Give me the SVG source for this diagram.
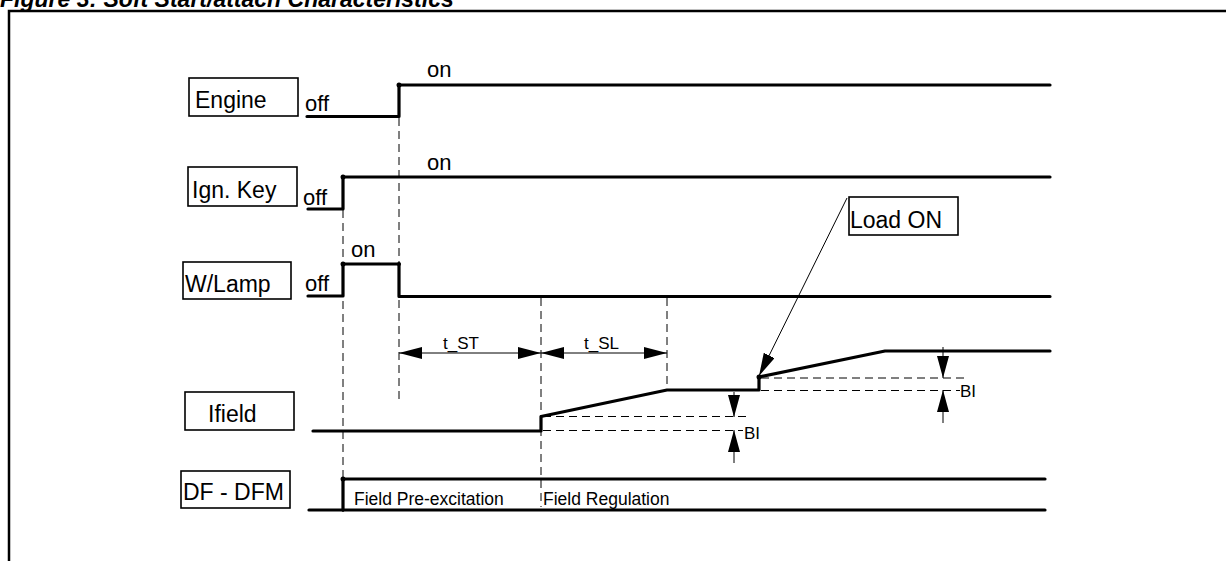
<svg xmlns="http://www.w3.org/2000/svg" width="1226" height="561" viewBox="0 0 1226 561">
<style>
.lbl{font-family:"Liberation Sans",Arial,sans-serif;font-size:23px;fill:#000}
.st{font-family:"Liberation Sans",Arial,sans-serif;font-size:22px;fill:#000}
.sm{font-family:"Liberation Sans",Arial,sans-serif;font-size:17px;fill:#000}
.box{fill:#fff;stroke:#000;stroke-width:1.6}
.sig{fill:none;stroke:#000;stroke-width:3.2;stroke-linejoin:round;stroke-linecap:round}
.dash{fill:none;stroke:#000;stroke-width:1;stroke-dasharray:8,5}
.thin{fill:none;stroke:#000;stroke-width:1}
.dot{fill:#000}
</style>
<defs>
<marker id="arr" viewBox="0 0 23 12" refX="23" refY="6" markerWidth="23" markerHeight="12" markerUnits="userSpaceOnUse" orient="auto-start-reverse"><path d="M0,0 L23,6 L0,12 z" fill="#000"/></marker>
<marker id="arrS" viewBox="0 0 22 12" refX="22" refY="6" markerWidth="22" markerHeight="12" markerUnits="userSpaceOnUse" orient="auto"><path d="M0,0 L22,6 L0,12 z" fill="#000"/></marker>
</defs>
<rect width="1226" height="561" fill="#fff"/>
<text x="0" y="7" font-family="Liberation Sans, Arial, sans-serif" font-size="23" font-weight="bold" font-style="italic">Figure 3: Soft Start/attach Characteristics</text>
<path d="M9,561 V11 H1226" fill="none" stroke="#000" stroke-width="2.5"/>

<g id="connectors">
<line class="dash" x1="399" y1="118" x2="399" y2="400"/>
<line class="dash" x1="343" y1="210" x2="343" y2="512"/>
<line class="dash" x1="541" y1="298" x2="541" y2="507"/>
<line class="dash" x1="667" y1="298" x2="667" y2="389"/>
<line class="dash" x1="543" y1="416.5" x2="750" y2="416.5"/>
<line class="dash" x1="543" y1="430.5" x2="743" y2="430.5"/>
<line class="dash" x1="761" y1="378" x2="965" y2="378"/>
<line class="dash" x1="761" y1="390.5" x2="960" y2="390.5"/>
<line class="thin" x1="399" y1="353" x2="541" y2="353" marker-start="url(#arr)" marker-end="url(#arr)"/>
<line class="thin" x1="541" y1="353" x2="667" y2="353" marker-start="url(#arr)" marker-end="url(#arr)"/>
<line class="thin" x1="734" y1="392" x2="734" y2="417" marker-end="url(#arrS)"/>
<line class="thin" x1="734" y1="463" x2="734" y2="430" marker-end="url(#arrS)"/>
<line class="thin" x1="943" y1="347" x2="943" y2="378" marker-end="url(#arrS)"/>
<line class="thin" x1="943" y1="423" x2="943" y2="390" marker-end="url(#arrS)"/>
<line class="thin" x1="847" y1="198" x2="759" y2="376" marker-end="url(#arr)"/>
<text class="sm" x="443" y="349">t_ST</text>
<text class="sm" x="584" y="349">t_SL</text>
<text class="sm" x="744" y="439">BI</text>
<text class="sm" x="960" y="397">BI</text>
</g>

<g id="engine">
<rect class="box" x="189" y="78" width="109" height="38"/>
<text class="lbl" x="195" y="108">Engine</text>
<text class="st" x="305" y="111">off</text>
<text class="st" x="427" y="77">on</text>
<path class="sig" d="M307,116.5 H399 V85 H1050"/>
<circle class="dot" cx="399" cy="85" r="2.5"/>
</g>

<g id="ign-key">
<rect class="box" x="188" y="167" width="109" height="39"/>
<text class="lbl" x="192" y="198">Ign. Key</text>
<text class="st" x="303" y="205">off</text>
<text class="st" x="427" y="170">on</text>
<path class="sig" d="M308,209 H343 V177 H1050"/>
<circle class="dot" cx="343" cy="177" r="2.5"/>
</g>

<g id="w-lamp">
<rect class="box" x="183" y="262" width="108" height="37"/>
<text class="lbl" x="185" y="292">W/Lamp</text>
<text class="st" x="305" y="291">off</text>
<text class="st" x="351" y="257">on</text>
<path class="sig" d="M308,296 H343 V264 H399 V296.5 H1050"/>
<circle class="dot" cx="343" cy="264" r="2.5"/>
<circle class="dot" cx="399" cy="264" r="2"/>
</g>

<g id="ifield">
<rect class="box" x="185" y="392" width="109" height="38"/>
<text class="lbl" x="208" y="422">Ifield</text>
<path class="sig" d="M313,431 H541 V416.5 L667,390 H759 V377 L885,351 H1050"/>
<circle class="dot" cx="759" cy="377" r="2.5"/>
</g>

<g id="load-on">
<rect class="box" x="849" y="197" width="109" height="38"/>
<text class="lbl" x="850" y="228">Load ON</text>
</g>

<g id="df-dfm">
<rect class="box" x="181" y="471" width="109" height="37"/>
<text class="lbl" x="183" y="500">DF - DFM</text>
<path class="sig" d="M309,510 H1045"/>
<path class="sig" d="M343,510 V479 H1045"/>
<circle class="dot" cx="343" cy="479" r="2.5"/>
<text class="sm" x="354" y="505" style="font-size:17.5px">Field Pre-excitation</text>
<text class="sm" x="543" y="505" style="font-size:17.5px">Field Regulation</text>
</g>
</svg>
